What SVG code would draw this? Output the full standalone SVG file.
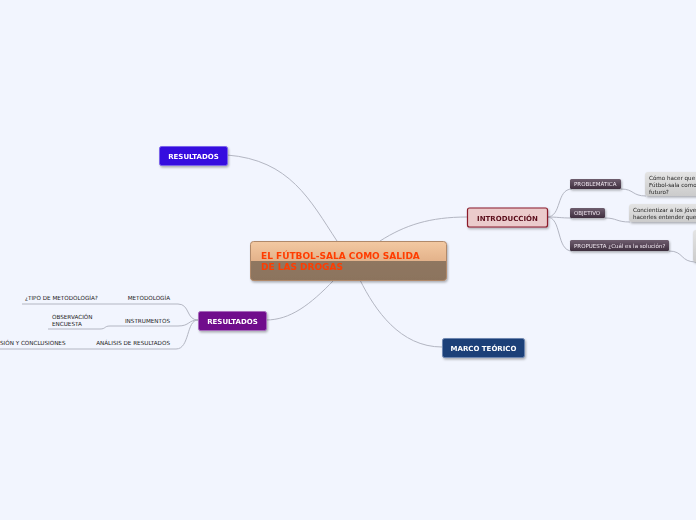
<svg xmlns="http://www.w3.org/2000/svg" width="696" height="520" viewBox="0 0 696 520">
<defs>
<linearGradient id="gCentral" x1="0" y1="0" x2="0" y2="1">
<stop offset="0" stop-color="#f3c9a2"/><stop offset="0.5" stop-color="#e3b28a"/><stop offset="0.5" stop-color="#8f7760"/><stop offset="1" stop-color="#8c735d"/>
</linearGradient>
<linearGradient id="gDark" x1="0" y1="0" x2="0" y2="1">
<stop offset="0" stop-color="#6e5d6e"/><stop offset="1" stop-color="#3f2f3f"/>
</linearGradient>
<linearGradient id="gGray" x1="0" y1="0" x2="0" y2="1">
<stop offset="0" stop-color="#e4e4e4"/><stop offset="1" stop-color="#cbcbcb"/>
</linearGradient>
<filter id="sh" x="-20%" y="-30%" width="140%" height="170%">
<feDropShadow dx="1" dy="1.5" stdDeviation="1" flood-color="#000" flood-opacity="0.3"/>
</filter>
<style>
.c{fill:none;stroke:#b3b6c2;stroke-width:1}
.t{font-family:"DejaVu Sans",Verdana,sans-serif}
.b{font-weight:bold}
.main{font-size:7px;fill:#fff;font-weight:bold;text-anchor:middle}
.sub{font-size:5.5px;fill:#f2e9f2}
.sm{font-size:5.65px;fill:#222}
.gr{font-size:5.6px;fill:#222}
</style>
</defs>
<rect width="696" height="520" fill="#f2f5fe"/>
<g id="connectors">
<path class="c" d="M227,155 C290,160 310,200 337,241"/>
<path class="c" d="M380,241 C405,225 430,217 467,217"/>
<path class="c" d="M360,280 C375,310 400,347 442,347"/>
<path class="c" d="M334,280 C310,305 290,320 266,320"/>
<path class="c" d="M547,217 C562,217 556,189 572,189"/>
<path class="c" d="M547,217 C558,217 560,218 572,218"/>
<path class="c" d="M547,217 C562,217 556,251 572,251"/>
<path class="c" d="M621,189 C634,189 632,196 646,196"/>
<path class="c" d="M605,218 C617,218 616,222 630,222"/>
<path class="c" d="M669,251 C684,251 680,262 696,262"/>
<path class="c" d="M198,320 C186,320 190,304 178,304 L22,304"/>
<path class="c" d="M198,320 C188,320 190,326 178,326 L110,326 C104,326 106,329 100,329 L48,329"/>
<path class="c" d="M198,320 C186,320 190,349 176,349 L0,349"/>
</g>
<g id="central" filter="url(#sh)">
<rect x="250.5" y="241.5" width="196" height="39" rx="3" fill="url(#gCentral)" stroke="#b0896a"/>
<text class="t b" x="261" y="259" font-size="9" fill="#ff3c00">EL FÚTBOL-SALA COMO SALIDA</text>
<text class="t b" x="261" y="270" font-size="9" fill="#ff3c00">DE LAS DROGAS</text>
</g>
<g id="resultados-top" filter="url(#sh)">
<rect x="159.5" y="146.5" width="68" height="19" rx="2" fill="#3607df" stroke="#7a63ea"/>
<text class="t main" x="193.5" y="158.5">RESULTADOS</text>
</g>
<g id="introduccion" filter="url(#sh)">
<rect x="467.5" y="208" width="80" height="19" rx="2" fill="#ebcbcc" stroke="#8b1d2c" stroke-width="1.2"/>
<text class="t b" x="507.5" y="220.5" font-size="7" fill="#5b0f1d" text-anchor="middle">INTRODUCCIÓN</text>
</g>
<g id="marco" filter="url(#sh)">
<rect x="442.5" y="338.5" width="82" height="19" rx="2" fill="#1b3f78" stroke="#6d86b0"/>
<text class="t main" x="483.5" y="350.5">MARCO TEÓRICO</text>
</g>
<g id="resultados-bottom" filter="url(#sh)">
<rect x="198.5" y="311.5" width="68" height="19" rx="2" fill="#700a8c" stroke="#a76abb"/>
<text class="t main" x="232.5" y="323.5">RESULTADOS</text>
</g>
<g id="problematica" filter="url(#sh)">
<rect x="570" y="179" width="51" height="10" rx="1.5" fill="url(#gDark)"/>
<text class="t sub" x="574" y="186.2">PROBLEMÁTICA</text>
</g>
<g id="objetivo" filter="url(#sh)">
<rect x="570" y="208" width="35" height="10" rx="1.5" fill="url(#gDark)"/>
<text class="t sub" x="574" y="215.2">OBJETIVO</text>
</g>
<g id="propuesta" filter="url(#sh)">
<rect x="570" y="240" width="99" height="11" rx="1.5" fill="url(#gDark)"/>
<text class="t sub" x="574" y="247.6">PROPUESTA ¿Cuál es la solución?</text>
</g>
<g id="como" filter="url(#sh)">
<rect x="645" y="172" width="60" height="24" rx="3" fill="url(#gGray)"/>
<text class="t gr" x="649" y="180">Cómo hacer que</text>
<text class="t gr" x="649" y="187">Fútbol-sala como</text>
<text class="t gr" x="649" y="194">futuro?</text>
</g>
<g id="concientizar" filter="url(#sh)">
<rect x="629" y="204" width="76" height="18" rx="3" fill="url(#gGray)"/>
<text class="t gr" x="633" y="212">Concientizar a los jóve</text>
<text class="t gr" x="633" y="219">hacerles entender que</text>
</g>
<g id="solucion" filter="url(#sh)">
<rect x="693" y="230" width="20" height="32" rx="3" fill="url(#gGray)"/>
</g>
<g id="metodologia">
<text class="t sm" x="170" y="300" text-anchor="end">METODOLOGÍA</text>
</g>
<g id="tipo">
<text class="t sm" x="25" y="300">¿TIPO DE METODOLOGÍA?</text>
</g>
<g id="instrumentos">
<text class="t sm" x="170" y="323" text-anchor="end">INSTRUMENTOS</text>
</g>
<g id="observacion">
<text class="t sm" x="52" y="319">OBSERVACIÓN</text>
<text class="t sm" x="52" y="326">ENCUESTA</text>
</g>
<g id="analisis">
<text class="t sm" x="170" y="345" text-anchor="end">ANÁLISIS DE RESULTADOS</text>
</g>
<g id="discusion">
<text class="t sm" x="0" y="345">SIÓN Y CONCLUSIONES</text>
</g>
</svg>
